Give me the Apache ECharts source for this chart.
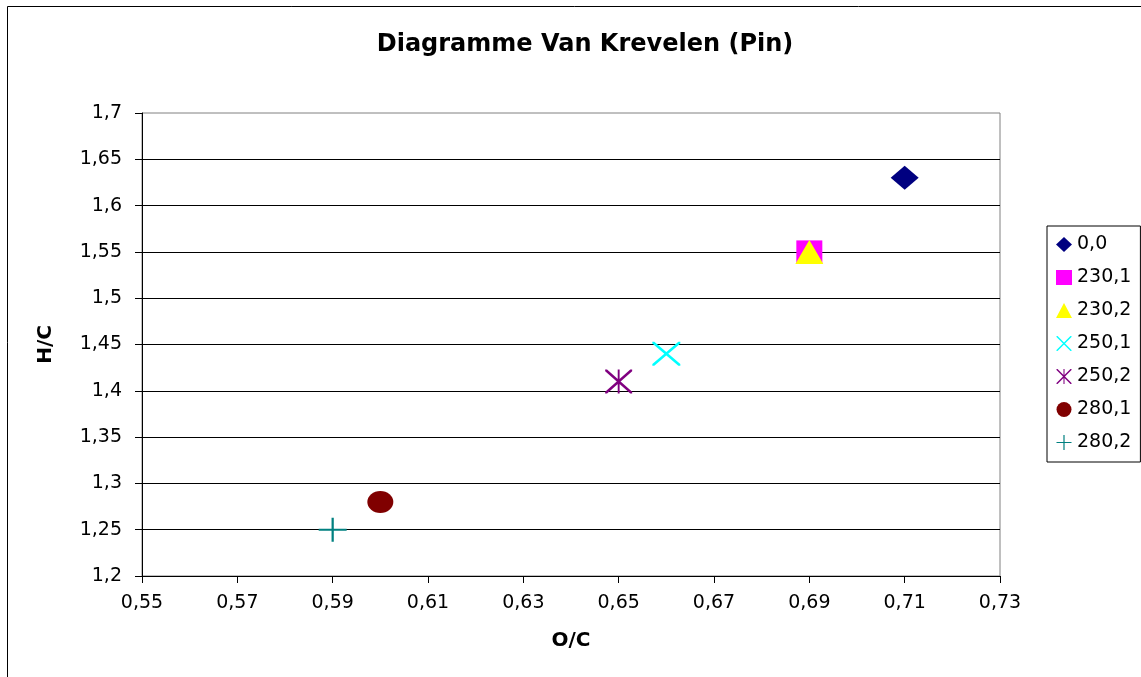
<!DOCTYPE html>
<html>
<head>
<meta charset="utf-8">
<title>Diagramme Van Krevelen (Pin)</title>
<script src="https://cdn.jsdelivr.net/npm/echarts@6/dist/echarts.min.js"></script>
<style>
  html, body { margin: 0; padding: 0; background: #fff; }
  #chart { width: 1141px; height: 677px; }
</style>
</head>
<body>
<div id="chart"></div>
<script>
// Data
const seriesNames = ['0,0', '230,1', '230,2', '250,1', '250,2', '280,1', '280,2'];
const ocValues = [0.71, 0.69, 0.69, 0.66, 0.65, 0.60, 0.59];
const hcValues = [1.63, 1.55, 1.55, 1.44, 1.41, 1.28, 1.25];
const xTicks = { min: 0.55, max: 0.73, step: 0.02 };
const yTicks = { min: 1.2, max: 1.7, step: 0.05 };

// Marker shapes (Excel-like)
const X_PATH = 'path://M0 0 L7 0 L100 93 L100 100 L93 100 L0 7 Z M100 0 L100 7 L7 100 L0 100 L0 93 L93 0 Z';
const STAR_PATH = X_PATH + ' M46.5 0 L53.5 0 L53.5 100 L46.5 100 Z';
const PLUS_PATH = 'path://M0 46 L100 46 L100 54 L0 54 Z M46 0 L54 0 L54 100 L46 100 Z';

const markers = [
    { symbol: 'diamond', size: [28, 24], color: '#000080' },
    { symbol: 'rect', size: [26, 23], color: '#ff00ff' },
    { symbol: 'triangle', size: [28, 24], color: '#ffff00' },
    { symbol: X_PATH, size: [28, 24], color: '#00ffff' },
    { symbol: STAR_PATH, size: [27, 24], color: '#800080' },
    { symbol: 'circle', size: [26, 22], color: '#800000' },
    { symbol: PLUS_PATH, size: [28, 24], color: '#008080' }
];

const FONT = 'DejaVu Sans';

function commaLabel(v, digits) {
    return String(+v.toFixed(digits)).replace('.', ',');
}

const chart = echarts.init(document.getElementById('chart'));

const option = {
    backgroundColor: '#fff',
    animation: false,
    textStyle: { fontFamily: FONT, color: '#000' },
    title: {
        text: 'Diagramme Van Krevelen (Pin)',
        left: 580,
        top: 28,
        textAlign: 'center',
        textStyle: { fontFamily: FONT, fontSize: 24, fontWeight: 'bold', color: '#000' }
    },
    graphic: [{
        type: 'rect',
        shape: { x: 7.5, y: 6.5, width: 1200, height: 700 },
        style: { fill: 'none', stroke: '#000', lineWidth: 1 },
        silent: true
    }],
    legend: {
        orient: 'vertical',
        left: 1047,
        top: 226,
        padding: [9, 9, 10, 9],
        itemGap: 14,
        itemWidth: 16,
        itemHeight: 15,
        borderColor: '#000',
        borderWidth: 1,
        backgroundColor: '#fff',
        textStyle: { fontFamily: FONT, fontSize: 19, color: '#000' },
        data: seriesNames
    },
    grid: {
        left: 142,
        top: 113,
        right: 141,
        bottom: 101,
        show: true,
        borderColor: '#808080',
        borderWidth: 1,
        backgroundColor: '#fff'
    },
    xAxis: {
        type: 'value',
        min: xTicks.min,
        max: xTicks.max,
        interval: xTicks.step,
        name: 'O/C',
        nameLocation: 'middle',
        nameGap: 55,
        nameTextStyle: { fontFamily: FONT, fontSize: 20, fontWeight: 'bold', color: '#000' },
        axisLine: { show: true, onZero: false, lineStyle: { color: '#000', width: 1 } },
        axisTick: { show: true, inside: false, length: 7, lineStyle: { color: '#000' } },
        axisLabel: {
            margin: 18,
            fontSize: 19,
            color: '#000',
            fontFamily: FONT,
            formatter: v => commaLabel(v, 2)
        },
        splitLine: { show: false }
    },
    yAxis: {
        type: 'value',
        min: yTicks.min,
        max: yTicks.max,
        interval: yTicks.step,
        name: 'H/C',
        nameLocation: 'middle',
        nameGap: 86,
        nameRotate: 90,
        nameTextStyle: { fontFamily: FONT, fontSize: 20, fontWeight: 'bold', color: '#000' },
        axisLine: { show: true, onZero: false, lineStyle: { color: '#000', width: 1 } },
        axisTick: { show: true, inside: false, length: 7, lineStyle: { color: '#000' } },
        axisLabel: {
            margin: 20,
            fontSize: 19,
            color: '#000',
            fontFamily: FONT,
            formatter: v => commaLabel(v, 2)
        },
        splitLine: { show: true, showMaxLine: false, lineStyle: { color: '#000', width: 1 } }
    },
    series: seriesNames.map((name, i) => ({
        name: name,
        type: 'scatter',
        symbol: markers[i].symbol,
        symbolSize: markers[i].size,
        itemStyle: { color: markers[i].color, opacity: 1 },
        emphasis: { disabled: true },
        data: [[ocValues[i], hcValues[i]]]
    }))
};

chart.setOption(option);
</script>
</body>
</html>
